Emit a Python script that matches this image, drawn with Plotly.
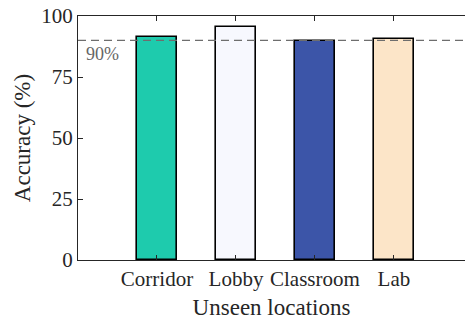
import plotly.graph_objects as go

# Accuracy per unseen location
locations = ["Corridor", "Lobby", "Classroom", "Lab"]
accuracy = [91.4, 95.6, 89.8, 90.7]
bar_colors = ["#1ECBAD", "#F7F8FE", "#3C55A8", "#FCE5C8"]
threshold = 90
y_ticks = [0, 25, 50, 75, 100]

positions = list(range(1, len(locations) + 1))

FONT = "'Liberation Serif', 'Times New Roman', 'DejaVu Serif', serif"
AXIS_COLOR = "#262626"

fig = go.Figure()
fig.add_trace(go.Bar(
    x=positions,
    y=accuracy,
    width=0.5,
    marker=dict(color=bar_colors, line=dict(color="#000000", width=1.6)),
    showlegend=False,
    hoverinfo="skip",
))

# 90% reference line
fig.add_shape(
    type="line", xref="x domain", yref="y",
    x0=0, x1=1, y0=threshold, y1=threshold,
    line=dict(color="#6e6e6e", width=1.2, dash="8px,5px"),
    layer="above",
)
fig.add_annotation(
    x=0.08, y=threshold, xref="x", yref="y",
    text=f"{threshold}%", showarrow=False,
    xanchor="left", yanchor="top", yshift=-2,
    font=dict(family=FONT, size=18, color="#666666"),
)

fig.update_layout(
    width=465, height=321,
    margin=dict(l=78, r=0, t=16, b=61),
    paper_bgcolor="white", plot_bgcolor="white",
    font=dict(family=FONT, color="#262626"),
    bargap=0,
)
fig.update_xaxes(
    range=[0, 4.9],
    tickvals=positions, ticktext=locations,
    ticks="inside", ticklen=5, tickwidth=1, tickcolor=AXIS_COLOR,
    showline=True, linecolor=AXIS_COLOR, linewidth=1, mirror="ticks",
    showgrid=False, zeroline=False,
    tickfont=dict(family=FONT, size=21, color="#262626"),
    title=dict(text="Unseen locations", font=dict(family=FONT, size=23, color="#262626"), standoff=8),
)
fig.update_yaxes(
    range=[0, 100],
    tickvals=y_ticks,
    ticks="inside", ticklen=5, tickwidth=1, tickcolor=AXIS_COLOR,
    showline=True, linecolor=AXIS_COLOR, linewidth=1, mirror=False,
    showgrid=False, zeroline=False,
    tickfont=dict(family=FONT, size=21, color="#262626"),
    title=dict(text="Accuracy (%)", font=dict(family=FONT, size=23, color="#262626"), standoff=4),
)

fig.write_html("out.html")
